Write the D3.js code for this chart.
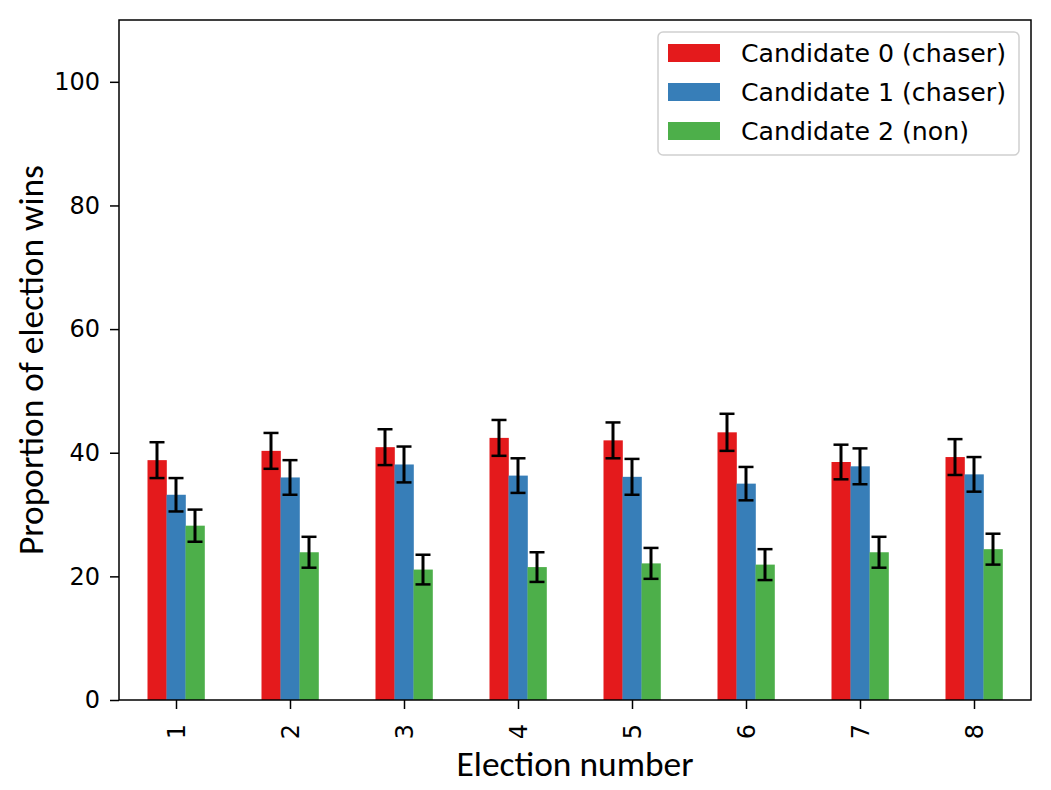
<!DOCTYPE html>
<html><head><meta charset="utf-8">
<script src="https://cdn.jsdelivr.net/npm/d3@7"></script>
<style>
body{margin:0;background:#fff;}
svg{display:block;}
.tick text{font-family:"DejaVu Sans",sans-serif;font-size:24px;fill:#000;}
</style></head>
<body><svg id="c" width="1051" height="790"></svg>
<script>
const elections = ["1","2","3","4","5","6","7","8"];
const seriesNames = ["Candidate 0 (chaser)","Candidate 1 (chaser)","Candidate 2 (non)"];
const seriesColors = ["#e41a1c","#377eb8","#4daf4a"];
const cand0 = [38.8,40.3,40.9,42.4,42.0,43.3,38.5,39.3];
const cand1 = [33.2,36.0,38.1,36.3,36.1,35.0,37.8,36.5];
const cand2 = [28.2,23.9,21.1,21.5,22.1,21.9,23.9,24.4];
const err0 = [2.9,2.9,2.9,2.9,2.9,3.0,2.8,2.9];
const err1 = [2.7,2.8,2.9,2.8,2.9,2.7,2.9,2.8];
const err2 = [2.6,2.5,2.4,2.4,2.5,2.5,2.5,2.5];
const yTicks = [0,20,40,60,80,100];

const values = [cand0,cand1,cand2];
const errs = [err0,err1,err2];

const L=119,R=1031,T=20,B=700;
const svg = d3.select("#c");
const x = d3.scaleLinear().domain([-0.5, elections.length-0.5]).range([L,R]);
const y = d3.scaleLinear().domain([0,110]).range([B,T]);
const groupW = 0.5, barW = groupW/3;

// bars
values.forEach((vals,s)=>{
  const g = svg.append("g");
  g.selectAll("rect").data(vals).join("rect")
    .attr("x",(d,i)=>x(i - groupW/2 + s*barW))
    .attr("width",x(barW)-x(0)+0.3)
    .attr("y",d=>y(d))
    .attr("height",d=>y(0)-y(d))
    .attr("fill",seriesColors[s]);
});
// error bars
values.forEach((vals,s)=>{
  const g = svg.append("g").attr("stroke","#000");
  vals.forEach((v,i)=>{
    const cx = x(i - groupW/2 + (s+0.5)*barW);
    const e = errs[s][i];
    g.append("line").attr("x1",cx).attr("x2",cx).attr("y1",y(v-e)).attr("y2",y(v+e)).attr("stroke-width",3);
    [v-e,v+e].forEach(w=>{
      g.append("line").attr("x1",cx-7.5).attr("x2",cx+7.5).attr("y1",y(w)).attr("y2",y(w)).attr("stroke-width",2.5);
    });
  });
});

// axes
const xAxis = svg.append("g").attr("transform",`translate(0,${B})`)
  .call(d3.axisBottom(x).tickValues(d3.range(elections.length)).tickFormat(i=>elections[i]).tickSize(9).tickSizeOuter(0));
xAxis.select(".domain").remove();
xAxis.selectAll(".tick line").attr("stroke-width",1.5);
xAxis.selectAll(".tick text")
  .attr("transform","rotate(-90)")
  .attr("text-anchor","end")
  .attr("x",-24).attr("y",0).attr("dy","0.37em");

const yAxis = svg.append("g").attr("transform",`translate(${L},0)`)
  .call(d3.axisLeft(y).tickValues(yTicks).tickSize(9).tickPadding(10));
yAxis.select(".domain").remove();
yAxis.selectAll(".tick line").attr("stroke-width",1.5);

// frame
svg.append("rect").attr("x",L).attr("y",T).attr("width",R-L).attr("height",B-T)
  .attr("fill","none").attr("stroke","#000").attr("stroke-width",1.5);

// axis labels
function fitText(sel, target){
  const node = sel.node();
  const w = node.getComputedTextLength();
  const fs = parseFloat(sel.style("font-size"));
  if (w > 0) sel.style("font-size", (fs*target/w).toFixed(2)+"px");
}
const xl = svg.append("text").attr("x",(L+R)/2).attr("y",776).attr("text-anchor","middle")
  .style("font-family","Carlito, Lato, sans-serif").style("font-size","31px").text("Election number");
fitText(xl, 237);
const yl = svg.append("text").attr("transform",`translate(43,${(T+B)/2}) rotate(-90)`).attr("text-anchor","middle")
  .style("font-family","Carlito, Lato, sans-serif").style("font-size","31px").text("Proportion of election wins");
fitText(yl, 390);

// legend
const lg = svg.append("g");
lg.append("rect").attr("x",658).attr("y",32).attr("width",361).attr("height",123).attr("rx",5)
  .attr("fill","#fff").attr("fill-opacity",0.8).attr("stroke","#d0d0d0").attr("stroke-width",1.5);
seriesNames.forEach((n,i)=>{
  const cy = 53 + i*39;
  lg.append("rect").attr("x",668).attr("y",cy-9).attr("width",52).attr("height",18).attr("fill",seriesColors[i]);
  const t = lg.append("text").attr("x",741).attr("y",cy+9).style("font-family","DejaVu Sans, sans-serif")
    .style("font-size","24.5px").text(n);
  if (i===0) fitText(t, 265);
  else t.style("font-size", lg.select("text").style("font-size"));
});
</script></body></html>
